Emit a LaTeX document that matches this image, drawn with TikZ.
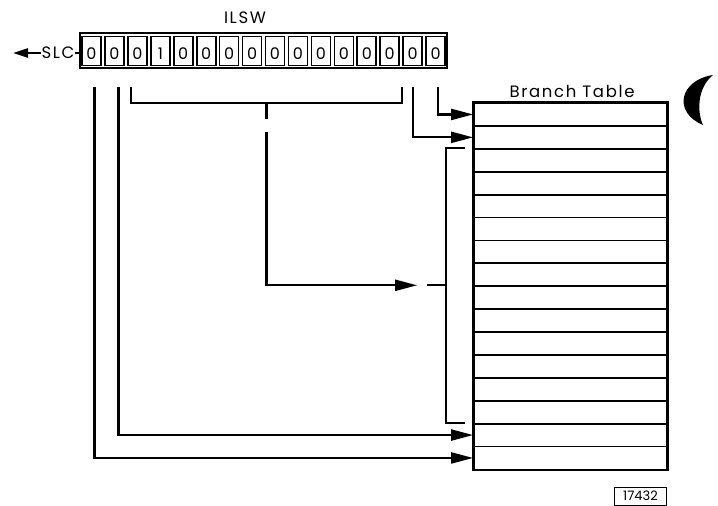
\documentclass[tikz,border=0pt]{standalone}
\usepackage{fontspec}
\setmainfont{Poppins}
\newfontfamily\widefont[LetterSpace=10]{Poppins}
\usetikzlibrary{arrows.meta,calc}

\begin{document}
\begin{tikzpicture}[x=1pt,y=-1pt,
    bitcell/.style={draw,line width=1.6pt,minimum width=19pt,minimum height=29pt,inner sep=0pt},
    digit/.style={font=\fontsize{16}{16}\selectfont,inner sep=0pt,yshift=-3pt},
    tabrow/.style={draw,line width=1.8pt,minimum width=193pt,minimum height=22.9pt,inner sep=0pt},
    wire/.style={line width=2.2pt},
    feed/.style={line width=2.2pt,-{Triangle[length=22pt,width=11pt]}},
    caption/.style={font=\widefont\fontsize{16.5}{16.5}\selectfont,inner sep=0pt}]
  \useasboundingbox (0,0) rectangle (718,506);
  % register
  \node[draw,line width=2pt,minimum width=367pt,minimum height=35pt,inner sep=0pt] (ilsw) at (263.5,50.5) {};
  \node[caption] (ilswlbl) at (245,18) {ILSW};
  \foreach \d [count=\i from 0] in {0,0,0,1,0,0,0,0,0,0,0,0,0,0,0,0}
    \node[bitcell,label={[digit]center:\d}] (b\i) at (91.5+22.94*\i,51) {};
  \node[caption] (slc) at (58,53) {SLC};
  \coordinate (slcend) at (13,53);
  \draw[wire,-{Triangle[length=15pt,width=9pt]}] (slc.west) -- (slcend);
  \draw[wire] (slc.east) -- (ilsw.west |- slc.east);
  % branch table
  \node[caption] (tbllbl) at (572,91) {Branch Table};
  \foreach \i in {1,...,16}
    \node[tabrow] (r\i) at (570.5,103+22.9*\i-11.45) {};
  \draw[line width=2.2pt] (r1.north west) rectangle (r16.south east);
  % direct bits
  \draw[feed] ([xshift=2pt,yshift=-21pt]b15.south) |- (r1.west);
  \draw[feed] ([yshift=-21pt]b14.south) |- (r2.west);
  \draw[feed] ([xshift=4pt,yshift=-21pt]b1.south) |- (r15.west);
  \draw[feed] ([xshift=3pt,yshift=-21pt]b0.south) |- (r16.west);
  % bits 2 to 13
  \coordinate (bl) at ([xshift=4pt,yshift=-21pt]b2.south west);
  \coordinate (br) at ([xshift=2pt,yshift=-21pt]b13.south east);
  \draw[wire] (bl) -- ++(0,16) -| (br);
  \coordinate (stem) at ($(bl)!0.5!(br)+(0,16)$);
  \draw[wire] (stem) -- ++(0,16);
  \coordinate (rt) at ([xshift=-8pt]r3.north west);
  \coordinate (rb) at ([xshift=-8pt]r15.north west);
  \draw[wire] (rt) -- ++(-19,0) |- (rb);
  \coordinate (rm) at ($(rt)!0.5!(rb)+(-19,0)$);
  \draw[wire] (rm) -- ++(-19,0);
  \draw[feed] ($(stem)+(0,29)$) |- ([xshift=-29pt]rm);
  % punch hole
  \fill (713,75) .. controls (680,80) and (672,112) .. (703,125) .. controls (697,112) and (697,88) .. (713,75);
  % figure number
  \node[draw,line width=1pt,minimum width=52pt,minimum height=18pt,inner sep=0pt,font=\fontsize{13}{13}\selectfont] (fignum) at (640.5,496) {17432};
\end{tikzpicture}
\end{document}
